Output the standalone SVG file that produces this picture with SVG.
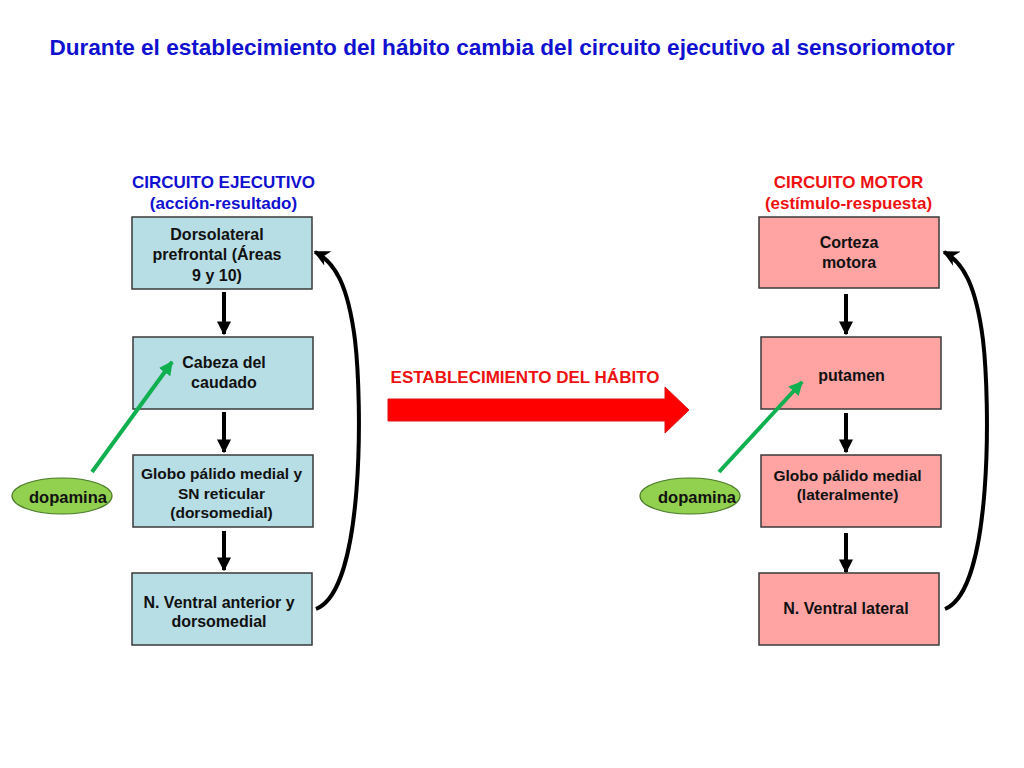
<svg xmlns="http://www.w3.org/2000/svg" width="1024" height="768" viewBox="0 0 1024 768">
<defs>
<style>
text{font-family:"Liberation Sans",Arial,sans-serif;font-weight:bold;text-anchor:middle}
.t{font-size:16px;fill:#111}
.h{font-size:17px}
.blue{fill:#1010d0}
.red{fill:#ee1111}
.bb{fill:#b7dde5;stroke:#3a3a3a;stroke-width:1.5}
.rb{fill:#ffa3a3;stroke:#3a3a3a;stroke-width:1.5}
.down{stroke:#000;stroke-width:4;fill:none;marker-end:url(#ah)}
.loop{stroke:#000;stroke-width:4;fill:none;marker-end:url(#ahl)}
.green{stroke:#10b050;stroke-width:4;fill:none;marker-end:url(#ag)}
.dop{fill:#92d050;stroke:#4a7a2a;stroke-width:1.2}
</style>
<marker id="ah" viewBox="0 0 10 10" refX="9" refY="5" markerWidth="3.5" markerHeight="3.6" orient="auto" markerUnits="strokeWidth"><path d="M0,0 L10,5 L0,10 z" fill="#000"/></marker>
<marker id="ahl" viewBox="0 0 10 10" refX="9" refY="5" markerWidth="4" markerHeight="4" orient="auto" markerUnits="strokeWidth"><path d="M0,0 L10,5 L0,10 L3,5 z" fill="#000"/></marker>
<marker id="ag" viewBox="0 0 10 10" refX="9" refY="5" markerWidth="3.5" markerHeight="3.5" orient="auto" markerUnits="strokeWidth"><path d="M0,0 L10,5 L0,10 z" fill="#10b050"/></marker>
</defs>
<rect width="1024" height="768" fill="#fff"/>
<text x="502" y="55" class="blue" style="font-size:22.6px">Durante el establecimiento del hábito cambia del circuito ejecutivo al sensoriomotor</text>

<g id="heading-ejecutivo"><text x="223.5" y="188" class="h blue">CIRCUITO EJECUTIVO</text><text x="223.5" y="209" class="h blue">(acción-resultado)</text></g>
<g id="heading-motor"><text x="848.5" y="188" class="h red">CIRCUITO MOTOR</text><text x="848.5" y="209" class="h red">(estímulo-respuesta)</text></g>

<g id="dlpfc"><rect x="132" y="217" width="180" height="72" class="bb"/><text x="217" y="240" class="t">Dorsolateral</text><text x="217" y="260" class="t">prefrontal (Áreas</text><text x="217" y="281" class="t">9 y 10)</text></g>
<g id="caudado"><rect x="133" y="337" width="180" height="72" class="bb"/><text x="224" y="368" class="t">Cabeza del</text><text x="224" y="388" class="t">caudado</text></g>
<g id="gpm-sn"><rect x="133" y="455" width="180" height="72" class="bb"/><text x="221.5" y="479" class="t" style="font-size:15.5px">Globo pálido medial y</text><text x="221.5" y="499" class="t" style="font-size:15.5px">SN reticular</text><text x="221.5" y="518" class="t" style="font-size:15.5px">(dorsomedial)</text></g>
<g id="nva"><rect x="132" y="573" width="180" height="72" class="bb"/><text x="219" y="608" class="t">N. Ventral anterior y</text><text x="219" y="627" class="t">dorsomedial</text></g>

<g id="corteza"><rect x="759" y="217" width="180" height="71" class="rb"/><text x="849" y="248" class="t">Corteza</text><text x="849" y="268" class="t">motora</text></g>
<g id="putamen"><rect x="761" y="337" width="180" height="72" class="rb"/><text x="851.5" y="381" class="t">putamen</text></g>
<g id="gpm"><rect x="761" y="455" width="180" height="72" class="rb"/><text x="847.5" y="481" class="t" style="font-size:15.5px">Globo pálido  medial</text><text x="847.5" y="500" class="t" style="font-size:15.5px">(lateralmente)</text></g>
<g id="nvl"><rect x="759" y="573" width="180" height="72" class="rb"/><text x="846" y="614" class="t">N. Ventral lateral</text></g>

<g id="dopamina-left"><ellipse cx="62" cy="496" rx="50" ry="18" class="dop"/><text x="68" y="503" class="t" style="font-size:16.5px">dopamina</text></g>
<g id="dopamina-right"><ellipse cx="690" cy="496" rx="50" ry="18" class="dop"/><text x="697" y="503" class="t" style="font-size:16.5px">dopamina</text></g>

<g id="habit-arrow"><path d="M388,399 L665,399 L665,387 L689,410 L665,433 L665,421 L388,421 z" fill="#ff0000" stroke="#dd1111" stroke-width="1"/><text x="525" y="383" class="red" style="font-size:17px">ESTABLECIMIENTO DEL HÁBITO</text></g>

<g id="connectors">
<path d="M224,292 V334" class="down"/>
<path d="M224,412 V452" class="down"/>
<path d="M224,531 V570" class="down"/>
<path d="M846,294 V334" class="down"/>
<path d="M846,413 V452" class="down"/>
<path d="M846,533 V572" class="down"/>
<path d="M316,609 C365,590 362,400 355,340 C348,285 335,262 315,252" class="loop"/>
<path d="M945,609 C993,590 990,400 983,340 C976,285 963,262 944,252" class="loop"/>
<path d="M92,472 L172,362" class="green"/>
<path d="M719,472 L802,382" class="green"/>
</g>
</svg>
